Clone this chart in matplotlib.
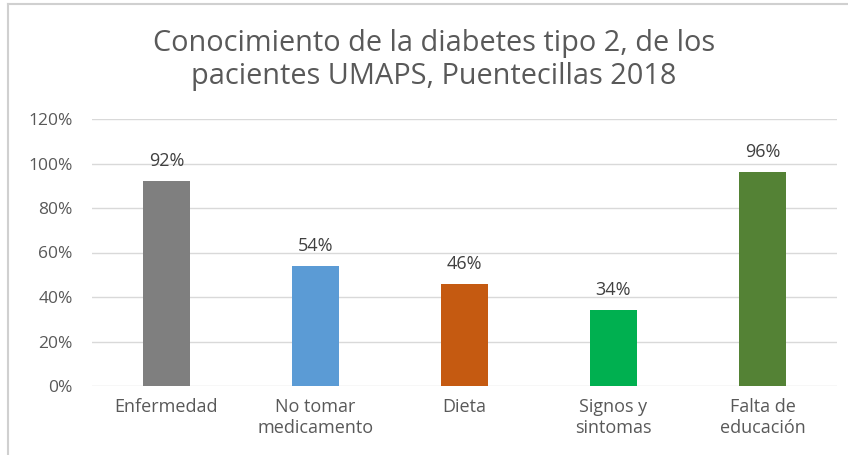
import matplotlib
matplotlib.use("Agg")
import matplotlib.pyplot as plt
from matplotlib.lines import Line2D

categories = ["Enfermedad", "No tomar\nmedicamento", "Dieta", "Signos y\nsintomas", "Falta de\neducación"]
values = [92, 54, 46, 34, 96]
colors = ["#7f7f7f", "#5b9bd5", "#c55a11", "#00b050", "#548235"]
yticks = [0, 20, 40, 60, 80, 100, 120]
title = "Conocimiento de la diabetes tipo 2, de los\npacientes UMAPS, Puentecillas 2018"

plt.rcParams['font.family'] = ['Open Sans', 'DejaVu Sans']

W, H = 848, 455
fig = plt.figure(figsize=(W / 100, H / 100), dpi=100)
ax = fig.add_axes([92 / W, 1 - 386 / H, (837 - 92) / W, (386 - 119) / H])

x = list(range(len(categories)))
bars = ax.bar(x, values, width=0.31, color=colors, zorder=3)
for xi, v in zip(x, values):
    ax.annotate(f"{v}%", (xi, v), xytext=(0, 8), textcoords="offset points",
                ha="center", va="bottom", fontsize=13, color="#404040")

ax.set_xlim(-0.5, len(categories) - 0.5)
ax.set_ylim(0, 120)
ax.set_yticks(yticks)
ax.set_yticklabels([f"{t}%" for t in yticks], fontsize=12.5, color="#595959")
ax.set_xticks(x)
ax.set_xticklabels(categories, fontsize=13, color="#595959", linespacing=1.15)
ax.tick_params(axis="both", length=0)
ax.tick_params(axis="y", pad=14)
ax.tick_params(axis="x", pad=9)
ax.grid(axis="y", color="#d9d9d9", linewidth=1, zorder=0)
for s in ax.spines.values():
    s.set_visible(False)

fig.text(434 / W, 1 - 60 / H, title, ha="center", va="center", fontsize=20.8,
         color="#595959", linespacing=1.22)

# outer chart frame (top and left edges visible)
fig.add_artist(Line2D([8 / W, 1], [1 - 4 / H, 1 - 4 / H], color="#d0d0d0", linewidth=1.5,
                      transform=fig.transFigure))
fig.add_artist(Line2D([8 / W, 8 / W], [0, 1 - 4 / H], color="#d0d0d0", linewidth=1.5,
                      transform=fig.transFigure))

fig.savefig("out.png", dpi=100)
